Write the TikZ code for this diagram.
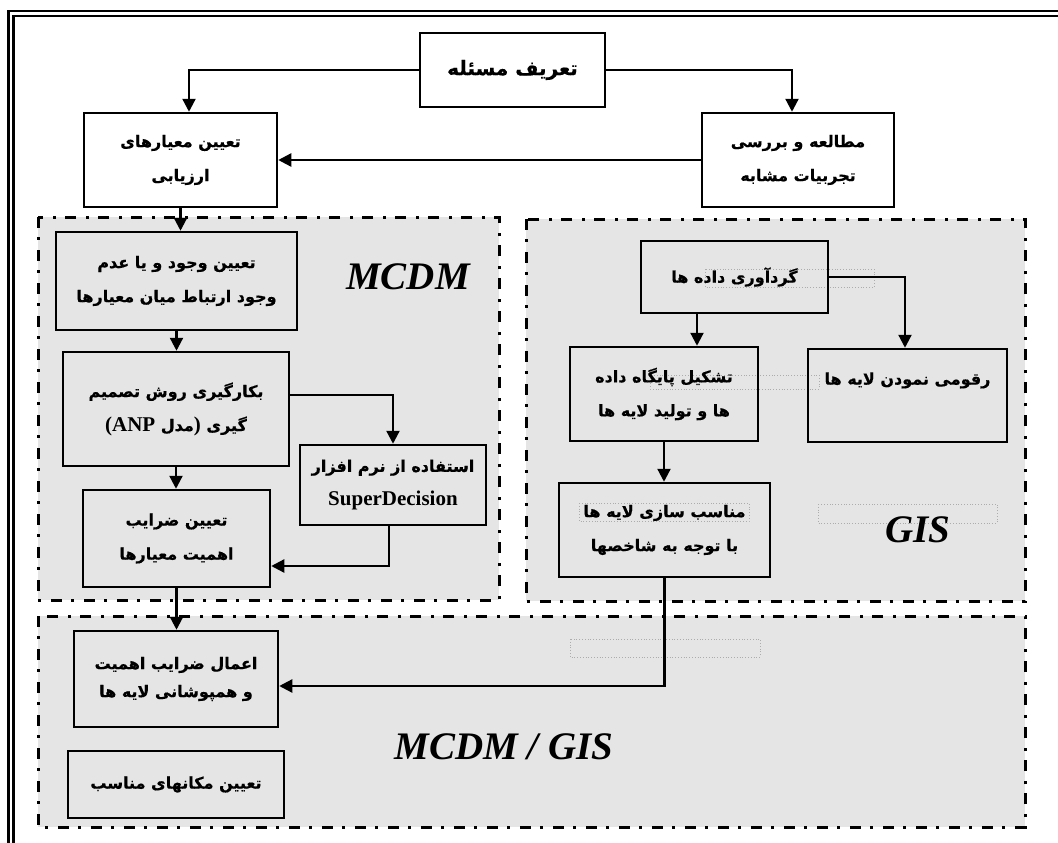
\documentclass[tikz,border=0pt]{standalone}
\usepackage{fontspec}
\setmainfont{Liberation Serif}
\newfontfamily\arabicfont[Script=Arabic, BoldFeatures={FakeBold=0.6}]{DejaVu Sans}
\newfontfamily\latinfont{Liberation Serif}
\TeXXeTstate=1
\usetikzlibrary{arrows.meta}
\tikzset{
 box/.style={draw, line width=2.5pt, inner sep=0pt, align=center, font=\arabicfont\bfseries\fontsize{16}{34}\selectfont},
 topbox/.style={box, fill=white},
 region/.style={draw, fill=gray!20, line width=3pt, dash pattern=on 11pt off 9pt on 3pt off 10pt},
 arr/.style={line width=2.3pt, -{Triangle[length=13pt,width=13pt]}},
 ghost/.style={draw=gray!65, dotted, line width=0.8pt},
 biglabel/.style={font=\latinfont\bfseries\itshape\fontsize{39}{40}\selectfont},
 frameline/.style={line width=2.5pt}
}
\newcommand{\lat}[1]{{\latinfont\bfseries\fontsize{21}{34}\selectfont #1}}
\begin{document}
\begin{tikzpicture}[x=1pt,y=-1pt]
\useasboundingbox (0,0) rectangle (1058,843);
% frame
\draw[frameline] (8.5,843) -- (8.5,11) -- (1058,11);
\draw[frameline] (13.5,843) -- (13.5,16) -- (1058,16);
% regions
\draw[region] (38,217) rectangle (499,600);
\draw[region] (526,219) rectangle (1025,601);
\draw[region] (38,616) rectangle (1025,827);
% ghost rectangles
\draw[ghost] (705,269) rectangle (874,287);
\draw[ghost] (650,375) rectangle (819,389);
\draw[ghost] (579,503) rectangle (749,521);
\draw[ghost] (818,504) rectangle (997,523);
\draw[ghost] (570,639) rectangle (760,657);
% labels
\node[biglabel] (mcdmlabel) at (408,277) {MCDM};
\node[biglabel] (gislabel) at (918,530) {GIS};
\node[biglabel] (bothlabel) at (504,747) {MCDM / GIS};
% top boxes
\node[topbox, minimum width=185, minimum height=74, font=\arabicfont\bfseries\fontsize{20}{34}\selectfont] (A) at (512.5,70) {\beginR تعریف مسئله\endR};
\node[topbox, minimum width=193, minimum height=94] (B) at (180.5,160) {\beginR تعیین معیارهای\endR\\\beginR ارزیابی\endR};
\node[topbox, minimum width=192, minimum height=94] (C) at (798,160) {\beginR مطالعه و بررسی\endR\\\beginR تجربیات مشابه\endR};
% MCDM boxes
\node[box, minimum width=241, minimum height=98] (D) at (176.5,281) {\beginR تعیین وجود و یا عدم\endR\\\beginR وجود ارتباط میان معیارها\endR};
\node[box, minimum width=226, minimum height=114] (E) at (176,409) {\beginR بکارگیری روش تصمیم\endR\\\beginL\lat{(ANP} مدل\lat{)} گیری\endL};
\node[box, minimum width=186, minimum height=80] (F) at (393,485) {\beginR استفاده از نرم افزار\endR\\\lat{SuperDecision}};
\node[box, minimum width=187, minimum height=97] (G) at (176.5,538.5) {\beginR تعیین ضرایب\endR\\\beginR اهمیت معیارها\endR};
% GIS boxes
\node[box, minimum width=187, minimum height=72] (H) at (734.5,277) {\beginR گردآوری داده ها\endR};
\node[box, minimum width=188, minimum height=94] (I) at (664,394) {\beginR تشکیل پایگاه داده\endR\\\beginR ها و تولید لایه ها\endR};
\node[box, minimum width=199, minimum height=93] (J) at (907.5,395.5) {\beginR رقومی نمودن لایه ها\endR\\\mbox{}};
\node[box, minimum width=211, minimum height=94] (K) at (664.5,530) {\beginR مناسب سازی لایه ها\endR\\\beginR با توجه به شاخصها\endR};
% MCDM/GIS boxes
\node[box, minimum width=204, minimum height=96, font=\arabicfont\bfseries\fontsize{16}{28}\selectfont] (L) at (176,679) {\beginR اعمال ضرایب اهمیت\endR\\\beginR و همپوشانی لایه ها\endR};
\node[box, minimum width=216, minimum height=67] (M) at (176,784.5) {\beginR تعیین مکانهای مناسب\endR};
% connectors
\draw[arr] (A.west) -| ([xshift=8.5]B.north);
\draw[arr] (A.east) -| ([xshift=-6]C.north);
\draw[arr] (C.west) -- (C.west -| B.east);
\draw[arr] (B.south) -- (B.south |- D.north);
\draw[arr] (D.south) -- (D.south |- E.north);
\draw[arr] ([yshift=14]E.east) -| (F.north);
\draw[arr] (E.south) -- (E.south |- G.north);
\draw[arr] ([xshift=-4]F.south) |- ([yshift=-27.5]G.east);
\draw[arr] (G.south) -- (G.south |- L.north);
\draw[arr] ([xshift=-37.5]H.south) -- ([xshift=-37.5]H.south |- I.north);
\draw[arr] (H.east) -| ([xshift=-2.5]J.north);
\draw[arr] (I.south) -- (I.south |- K.north);
\draw[arr] (K.south) |- ([yshift=-7]L.east);
\end{tikzpicture}
\end{document}
